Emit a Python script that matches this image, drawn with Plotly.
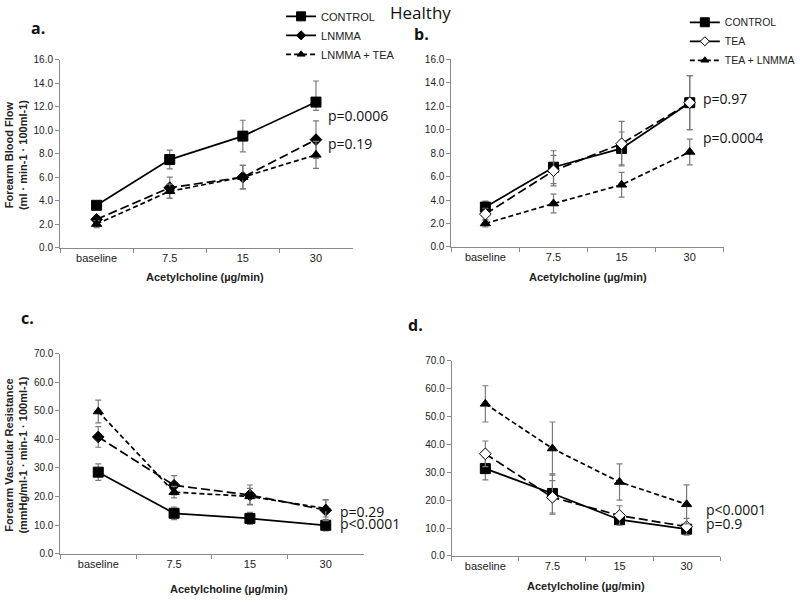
import plotly.graph_objects as go

categories = ["baseline", "7.5", "15", "30"]

# Panel a: Forearm blood flow, CONTROL / LNMMA / LNMMA + TEA
a_control = [3.6, 7.5, 9.5, 12.4]
a_control_up = [0.3, 0.8, 1.35, 1.8]
a_control_dn = [0.3, 0.8, 1.35, 0.7]
a_lnmma = [2.4, 5.1, 6.0, 9.2]
a_lnmma_err = [0.3, 0.9, 1.0, 1.6]
a_lnmma_tea = [2.0, 4.8, 6.0, 7.9]
a_lnmma_tea_err = [0.3, 0.6, 1.0, 1.15]

# Panel b: Forearm blood flow, CONTROL / TEA / TEA + LNMMA
b_control = [3.4, 6.8, 8.4, 12.3]
b_control_err = [0.5, 1.4, 1.4, 2.3]
b_tea = [2.8, 6.5, 8.8, 12.3]
b_tea_err = [0.5, 1.3, 1.9, 2.3]
b_tea_lnmma = [2.0, 3.7, 5.3, 8.1]
b_tea_lnmma_err = [0.3, 0.8, 1.05, 1.1]

# Panel c: Forearm vascular resistance, CONTROL / LNMMA / LNMMA + TEA
c_control = [28.5, 14.1, 12.3, 9.9]
c_control_err = [2.9, 2.2, 2.1, 2.0]
c_lnmma = [40.8, 23.9, 20.5, 15.2]
c_lnmma_err = [3.6, 3.4, 3.5, 3.7]
c_lnmma_tea = [49.7, 21.5, 20.0, 15.8]
c_lnmma_tea_err = [4.0, 2.0, 2.8, 3.0]

# Panel d: Forearm vascular resistance, CONTROL / TEA / TEA + LNMMA
d_control = [31.3, 22.4, 13.0, 9.6]
d_control_err = [4.0, 7.0, 1.5, 1.5]
d_tea = [36.6, 21.0, 14.5, 10.5]
d_tea_err = [4.6, 6.0, 3.5, 3.0]
d_tea_lnmma = [54.5, 38.5, 26.5, 18.5]
d_tea_lnmma_err = [6.5, 9.5, 6.5, 7.0]

p_a = ["p=0.0006", "p=0.19"]
p_b = ["p=0.97", "p=0.0004"]
p_c = ["p=0.29", "p<0.0001"]
p_d = ["p<0.0001", "p=0.9"]

FONT = "Liberation Sans, Arial, sans-serif"
TXT = "Open Sans, Liberation Sans, sans-serif"
ERRC = "#7a7a7a"
LONG = "9px,4px"
SHORT = "5px,3px"

fig = go.Figure()


def err(up, dn=None):
    d = dict(type="data", array=up, color=ERRC, thickness=1.2, width=3, visible=True)
    if dn is not None:
        d["arrayminus"] = dn
        d["symmetric"] = False
    return d


def series(x, y, e, xa, ya, symbol, dash, size, fill="black", lw=1.7):
    fig.add_trace(go.Scatter(
        x=x, y=y, xaxis=xa, yaxis=ya, mode="lines+markers", showlegend=False,
        error_y=e,
        line=dict(color="black", width=lw, dash=dash),
        marker=dict(symbol=symbol, size=size, color=fill, line=dict(color="black", width=1)),
    ))


def legend_item(name, symbol, dash, size, legend, fill="black"):
    fig.add_trace(go.Scatter(
        x=[None], y=[None], mode="lines+markers", name=name, legend=legend,
        line=dict(color="black", width=1.8, dash=dash),
        marker=dict(symbol=symbol, size=size, color=fill, line=dict(color="black", width=1)),
    ))


# Panel a
series(categories, a_control, err(a_control_up, a_control_dn), "x", "y", "square", "solid", 10)
series(categories, a_lnmma, err(a_lnmma_err), "x", "y", "diamond", LONG, 9)
series(categories, a_lnmma_tea, err(a_lnmma_tea_err), "x", "y", "triangle-up", SHORT, 9)
# Panel b
series(categories, b_control, err(b_control_err), "x2", "y2", "square", "solid", 10)
series(categories, b_tea, err(b_tea_err), "x2", "y2", "diamond", LONG, 9, fill="white")
series(categories, b_tea_lnmma, err(b_tea_lnmma_err), "x2", "y2", "triangle-up", SHORT, 9)
# Panel c
series(categories, c_control, err(c_control_err), "x3", "y3", "square", "solid", 10)
series(categories, c_lnmma, err(c_lnmma_err), "x3", "y3", "diamond", LONG, 9)
series(categories, c_lnmma_tea, err(c_lnmma_tea_err), "x3", "y3", "triangle-up", SHORT, 9)
# Panel d
series(categories, d_control, err(d_control_err), "x4", "y4", "square", "solid", 10)
series(categories, d_tea, err(d_tea_err), "x4", "y4", "diamond", LONG, 9, fill="white")
series(categories, d_tea_lnmma, err(d_tea_lnmma_err), "x4", "y4", "triangle-up", SHORT, 9)

# Legends
legend_item("CONTROL", "square", "solid", 9, "legend")
legend_item("LNMMA", "diamond", "solid", 7, "legend")
legend_item("LNMMA + TEA", "triangle-up", SHORT, 7, "legend")
legend_item("CONTROL", "square", "solid", 9, "legend2")
legend_item("TEA", "diamond", "solid", 7, "legend2", fill="white")
legend_item("TEA + LNMMA", "triangle-up", SHORT, 7, "legend2")

xax = dict(type="category", range=[-0.5, 3.5], showline=True, linecolor="#8a8a8a", linewidth=1,
           ticks="outside", tickson="boundaries", ticklen=4, tickcolor="#8a8a8a",
           showgrid=False, zeroline=False, tickfont=dict(family=FONT, size=11, color="#222"))
yax_flow = dict(range=[0, 16], dtick=2, tickformat=".1f", showline=True, linecolor="#8a8a8a", linewidth=1,
                ticks="outside", ticklen=4, tickcolor="#8a8a8a", showgrid=False, zeroline=False,
                tickfont=dict(family=FONT, size=10, color="#222"))
yax_res = dict(yax_flow, range=[0, 70], dtick=10)

fig.update_layout(
    width=800, height=603, margin=dict(l=0, r=0, t=0, b=0),
    plot_bgcolor="white", paper_bgcolor="white",
    xaxis=dict(xax, domain=[0.0756, 0.444], anchor="y"),
    yaxis=dict(yax_flow, domain=[0.592, 0.909], anchor="x"),
    xaxis2=dict(xax, domain=[0.5684, 0.9116], anchor="y2"),
    yaxis2=dict(yax_flow, domain=[0.593, 0.910], anchor="x2"),
    xaxis3=dict(xax, domain=[0.076, 0.458], anchor="y3"),
    yaxis3=dict(yax_res, domain=[0.075, 0.413], anchor="x3"),
    xaxis4=dict(xax, domain=[0.569, 0.907], anchor="y4"),
    yaxis4=dict(yax_res, domain=[0.071, 0.401], anchor="x4"),
    legend=dict(x=0.354, y=1.007, xanchor="left", yanchor="top", bgcolor="rgba(0,0,0,0)",
                font=dict(family=FONT, size=11, color="#222"), tracegroupgap=0, itemwidth=30),
    legend2=dict(x=0.8625, y=0.997, xanchor="left", yanchor="top", bgcolor="rgba(0,0,0,0)",
                 font=dict(family=FONT, size=10.5, color="#222"), tracegroupgap=0, itemwidth=30),
    showlegend=True,
)

ann = []
ann.append(dict(text="Healthy", x=0.53, y=0.989, xref="paper", yref="paper", xanchor="center", yanchor="middle",
                showarrow=False, font=dict(family=TXT, size=17, color="#111")))
for t, x, y in [("a.", 0.036, 0.9635), ("b.", 0.519, 0.952), ("c.", 0.024, 0.473), ("d.", 0.511, 0.461)]:
    ann.append(dict(text="<b>%s</b>" % t, x=x, y=y, xref="paper", yref="paper", xanchor="left",
                    yanchor="middle", showarrow=False, font=dict(family=TXT, size=16, color="#111")))
# axis titles
tfont = dict(family=FONT, size=11, color="#222")
ann.append(dict(text="<b>Forearm Blood Flow</b><br><b>(ml · min-1 · 100ml-1)</b>", textangle=-90,
                x=0.02, y=0.748, xref="paper", yref="paper", xanchor="center", yanchor="middle",
                showarrow=False, font=tfont))
ann.append(dict(text="<b>Forearm Vascular Resistance</b><br><b>(mmHg/ml-1 · min-1 · 100ml-1)</b>", textangle=-90,
                x=0.02, y=0.242, xref="paper", yref="paper", xanchor="center", yanchor="middle",
                showarrow=False, font=tfont))
for x, y in [(207, 276), (592, 276), (231, 594), (590, 591)]:
    ann.append(dict(text="<b>Acetylcholine (µg/min)</b>", x=x / 800, y=1 - y / 603, xref="paper", yref="paper",
                    xanchor="center", yanchor="middle", showarrow=False, font=tfont))
# p-values
pfont = dict(family=TXT, size=14, color="#111")
for txt, xr, yr, yv, xs in [(p_a[0], "x", "y", 10.97, 10), (p_a[1], "x", "y", 8.63, 10),
                            (p_b[0], "x2", "y2", 12.4, 11), (p_b[1], "x2", "y2", 9.08, 11),
                            (p_c[0], "x3", "y3", 13.8, 12), (p_c[1], "x3", "y3", 9.6, 12),
                            (p_d[0], "x4", "y4", 15.5, 17), (p_d[1], "x4", "y4", 10.4, 17)]:
    ann.append(dict(text=txt, x=3, y=yv, xref=xr, yref=yr, xanchor="left", yanchor="middle",
                    xshift=xs, yshift=3, showarrow=False, font=pfont))
fig.update_layout(annotations=ann)

page_fix = (
    "var h=document.documentElement,b=document.body;"
    "h.style.margin='0';h.style.padding='0';h.style.overflow='hidden';"
    "b.style.margin='0';b.style.padding='0';b.style.overflow='hidden';"
)
fig.write_html("out.html", config={"displayModeBar": False}, post_script=page_fix)
